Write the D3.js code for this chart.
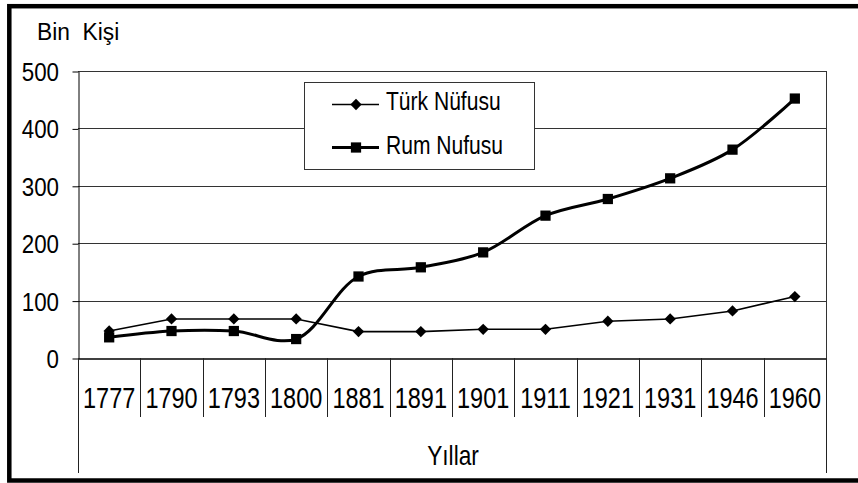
<!DOCTYPE html>
<html>
<head>
<meta charset="utf-8">
<script src="https://cdn.jsdelivr.net/npm/d3@7"></script>
<style>
  body { margin: 0; background: #fff; }
  svg text { font-family: "Liberation Sans", Arial, sans-serif; fill: #000; white-space: pre; }
</style>
</head>
<body>
<script>
// data (thousands of people)
var years = ["1777", "1790", "1793", "1800", "1881", "1891", "1901", "1911", "1921", "1931", "1946", "1960"];
var turk = [47, 68, 68, 68, 46, 46, 50, 50, 64, 68, 82, 107];
var rum = [36, 47, 47, 33, 142, 158, 184, 248, 277, 313, 363, 452];
var yTicks = [0, 100, 200, 300, 400, 500];
var seriesNames = ["Türk Nüfusu", "Rum Nufusu"];

var W = 858, H = 483;
var pLeft = 78, pRight = 826, pTop = 71, pBottom = 358;
var sx = 0.81; // text in the picture is narrow

var svg = d3.select("body").append("svg")
    .attr("width", W)
    .attr("height", H);

var x = d3.scaleBand().domain(years).range([pLeft, pRight]).padding(0);
var y = d3.scaleLinear().domain([0, 500]).range([pBottom, pTop]);

// outer frame
svg.append("rect")
    .attr("x", 9.3).attr("y", 6.2)
    .attr("width", 900).attr("height", 474.3)
    .attr("fill", "none").attr("stroke", "#000").attr("stroke-width", 4.5);

// gridlines
svg.append("g").selectAll("line")
    .data(yTicks.filter(function(d) { return d > 0; }))
    .enter().append("line")
    .attr("x1", pLeft).attr("x2", pRight)
    .attr("y1", function(d) { return Math.round(y(d)) + 0.5; })
    .attr("y2", function(d) { return Math.round(y(d)) + 0.5; })
    .attr("stroke", "#333").attr("stroke-width", 1);

// y axis
var ya = svg.append("g")
    .attr("transform", "translate(" + (pLeft + 0.5) + ",0.5)")
    .call(d3.axisLeft(y).tickValues(yTicks).tickSize(6).tickSizeOuter(0).tickFormat(d3.format("d")));
ya.select(".domain").attr("stroke", "#000");
ya.selectAll(".tick line").attr("stroke", "#000");
ya.selectAll(".tick text")
    .attr("font-size", 26)
    .attr("x", -19.5 / 0.86)
    .attr("dy", null)
    .attr("y", 9)
    .attr("transform", "scale(0.86,1)");

// x axis
var xa = svg.append("g")
    .attr("transform", "translate(0," + (Math.round(pBottom) + 0.5) + ")")
    .call(d3.axisBottom(x).tickSize(0).tickSizeOuter(0));
xa.select(".domain").attr("stroke", "#000").attr("stroke-width", 1.5);
xa.selectAll(".tick text")
    .attr("font-size", 29)
    .attr("y", 50)
    .attr("dy", null)
    .attr("transform", "scale(" + sx + ",1)");

// category separators
var bounds = years.map(function(d) { return x(d); }).concat([pRight]);
svg.append("g").selectAll("line")
    .data(bounds)
    .enter().append("line")
    .attr("x1", function(d) { return Math.round(d) + 0.5; })
    .attr("x2", function(d) { return Math.round(d) + 0.5; })
    .attr("y1", pBottom)
    .attr("y2", function(d, i) { return (i == 0 || i == bounds.length - 1) ? 473 : 417; })
    .attr("stroke", "#222").attr("stroke-width", 1);

// right edge of plot
svg.append("line")
    .attr("x1", pRight + 0.5).attr("x2", pRight + 0.5)
    .attr("y1", pTop).attr("y2", pBottom)
    .attr("stroke", "#333");

// titles
svg.append("text")
    .attr("transform", "translate(37,40) scale(0.95,1)")
    .attr("font-size", 24)
    .text("Bin  Kişi");

svg.append("text")
    .attr("transform", "translate(453,465) scale(" + sx + ",1)")
    .attr("text-anchor", "middle")
    .attr("font-size", 28)
    .text("Yıllar");

// lines
var cx = function(d, i) { return x(years[i]) + x.bandwidth() / 2; };

var turkLine = d3.line().x(cx).y(function(d) { return y(d); });
var rumLine = d3.line().x(cx).y(function(d) { return y(d); }).curve(d3.curveCatmullRom);

svg.append("path")
    .datum(turk)
    .attr("d", turkLine)
    .attr("fill", "none").attr("stroke", "#000").attr("stroke-width", 1.6);

var diamond = d3.symbol().type(d3.symbolSquare).size(64);
svg.append("g").selectAll("path")
    .data(turk)
    .enter().append("path")
    .attr("d", diamond)
    .attr("transform", function(d, i) { return "translate(" + cx(d, i) + "," + y(d) + ") rotate(45)"; })
    .attr("fill", "#000");

svg.append("path")
    .datum(rum)
    .attr("d", rumLine)
    .attr("fill", "none").attr("stroke", "#000").attr("stroke-width", 3);

var square = d3.symbol().type(d3.symbolSquare).size(105);
svg.append("g").selectAll("path")
    .data(rum)
    .enter().append("path")
    .attr("d", square)
    .attr("transform", function(d, i) { return "translate(" + cx(d, i) + "," + y(d) + ")"; })
    .attr("fill", "#000");

// legend
var lg = svg.append("g");
lg.append("rect")
    .attr("x", 304.5).attr("y", 82.5)
    .attr("width", 230).attr("height", 87)
    .attr("fill", "#fff").attr("stroke", "#333").attr("stroke-width", 1);

var items = [
  {name: seriesNames[0], y: 104.5, w: 1.6, sym: diamond, rot: 45},
  {name: seriesNames[1], y: 147.5, w: 3, sym: square, rot: 0}
];
items.forEach(function(it, i) {
  lg.append("line")
    .attr("x1", 332).attr("x2", 379)
    .attr("y1", it.y).attr("y2", it.y)
    .attr("stroke", "#000").attr("stroke-width", it.w);
  lg.append("path")
    .attr("d", it.sym)
    .attr("transform", "translate(356," + it.y + ") rotate(" + it.rot + ")")
    .attr("fill", "#000");
  lg.append("text")
    .attr("transform", "translate(386," + (i == 0 ? 109.5 : 154) + ") scale(" + sx + ",1)")
    .attr("font-size", 26)
    .text(it.name);
});
</script>
</body>
</html>
